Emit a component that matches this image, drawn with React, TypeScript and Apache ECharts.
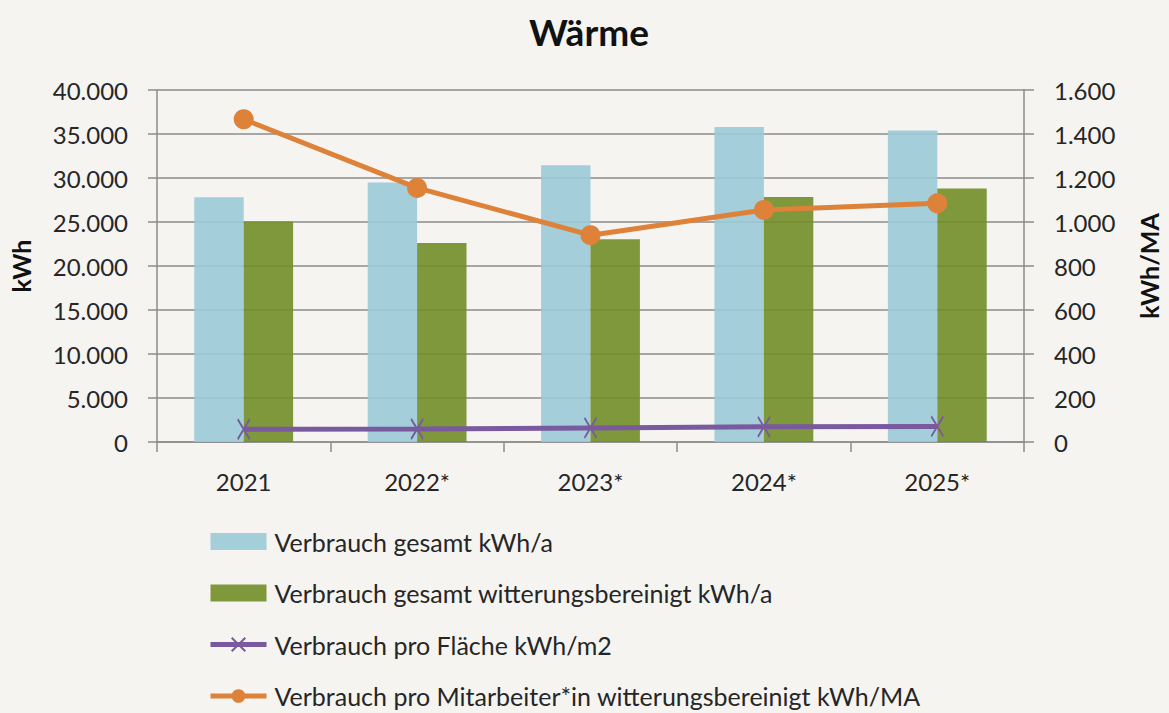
import React, { useEffect, useRef } from "react";
import * as echarts from "echarts";

const categories = ["2021", "2022*", "2023*", "2024*", "2025*"];
const verbrauchGesamt = [27800, 29500, 31450, 35800, 35400];
const verbrauchWitterung = [25050, 22600, 23050, 27850, 28800];
const proFlaeche = [58, 59, 64, 69, 71];
const proMitarbeiter = [1467, 1155, 940, 1055, 1085];

const seriesNames = [
  "Verbrauch gesamt kWh/a",
  "Verbrauch gesamt witterungsbereinigt kWh/a",
  "Verbrauch pro Fläche kWh/m2",
  "Verbrauch pro Mitarbeiter*in witterungsbereinigt kWh/MA",
];

const FONT = "Lato";
const fmt = (v: number) => String(v).replace(/\B(?=(\d{3})+(?!\d))/g, ".");

const PURPLE = "#7A5A9E";
const ORANGE = "#DD8238";

export default function App() {
  const ref = useRef<HTMLDivElement>(null);
  useEffect(() => {
    document.body.style.margin = "0";
    const chart = echarts.init(ref.current!, null, { renderer: "svg" });
    const gridColor = "#8c8c8c";
    chart.setOption({
      animation: false,
      backgroundColor: "#F5F4F1",
      textStyle: { fontFamily: FONT },
      title: {
        text: "Wärme",
        left: 524,
        top: 8,
        textStyle: { fontFamily: FONT, fontSize: 37, fontWeight: "bold", color: "#111" },
      },
      grid: { left: 157, right: 139, top: 90, bottom: 271, containLabel: false },
      legend: {
        orient: "vertical",
        left: 208,
        top: 529,
        height: 184,
        padding: 0,
        itemWidth: 56,
        itemHeight: 17,
        itemGap: 26.5,
        data: [
          { name: seriesNames[0], icon: "rect" },
          { name: seriesNames[1], icon: "rect" },
          { name: seriesNames[2], lineStyle: { width: 5, color: PURPLE } },
          { name: seriesNames[3], lineStyle: { width: 5, color: ORANGE } },
        ],
        textStyle: { fontFamily: FONT, fontSize: 25, color: "#262626", lineHeight: 25, padding: [0, 0, 0, 3] },
      },
      xAxis: {
        type: "category",
        data: categories,
        boundaryGap: true,
        axisLine: { lineStyle: { color: gridColor, width: 1.5 } },
        axisTick: { show: true, length: 10, lineStyle: { color: gridColor, width: 1.5 } },
        axisLabel: { fontFamily: FONT, fontSize: 24, color: "#262626", margin: 27 },
      },
      yAxis: [
        {
          type: "value",
          min: 0,
          max: 40000,
          interval: 5000,
          name: "kWh",
          nameLocation: "middle",
          nameRotate: 90,
          nameGap: 124,
          nameTextStyle: { fontFamily: FONT, fontSize: 25, fontWeight: "bold", color: "#111" },
          axisLine: { show: true, lineStyle: { color: gridColor, width: 1.5 } },
          axisTick: { show: true, length: 9, lineStyle: { color: gridColor, width: 1.5 } },
          axisLabel: { fontFamily: FONT, fontSize: 24, color: "#262626", margin: 29, formatter: fmt },
          splitLine: { show: true, lineStyle: { color: gridColor, width: 1.5 } },
        },
        {
          type: "value",
          min: 0,
          max: 1600,
          interval: 200,
          name: "kWh/MA",
          nameLocation: "middle",
          nameRotate: 90,
          nameGap: 112,
          nameTextStyle: { fontFamily: FONT, fontSize: 25, fontWeight: "bold", color: "#111" },
          axisLine: { show: true, lineStyle: { color: gridColor, width: 1.5 } },
          axisTick: { show: true, length: 10, lineStyle: { color: gridColor, width: 1.5 } },
          axisLabel: { fontFamily: FONT, fontSize: 24, color: "#262626", margin: 30, formatter: fmt },
          splitLine: { show: false },
        },
      ],
      series: [
        {
          name: seriesNames[0],
          type: "bar",
          yAxisIndex: 0,
          data: verbrauchGesamt,
          barGap: "0%",
          barCategoryGap: "43%",
          itemStyle: { color: "#9ACAD7", opacity: 0.9 },
        },
        {
          name: seriesNames[1],
          type: "bar",
          yAxisIndex: 0,
          data: verbrauchWitterung,
          barGap: "0%",
          barCategoryGap: "43%",
          itemStyle: { color: "#728E28", opacity: 0.9 },
        },
        {
          name: seriesNames[2],
          type: "line",
          yAxisIndex: 1,
          data: proFlaeche,
          symbol: "path://M0,0L10,20M10,0L0,20",
          symbolSize: [12, 20],
          lineStyle: { color: PURPLE, width: 5 },
          itemStyle: { color: PURPLE, borderColor: PURPLE, borderWidth: 2 },
        },
        {
          name: seriesNames[3],
          type: "line",
          yAxisIndex: 1,
          data: proMitarbeiter,
          symbol: "circle",
          symbolSize: 20,
          lineStyle: { color: ORANGE, width: 5 },
          itemStyle: { color: ORANGE },
          z: 4,
        },
      ],
    });
    return () => chart.dispose();
  }, []);
  return <div ref={ref} style={{ width: 1169, height: 713 }} />;
}
